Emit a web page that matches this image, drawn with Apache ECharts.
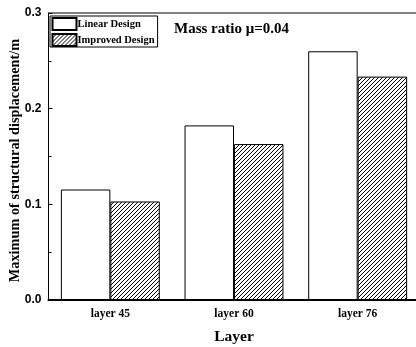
<!DOCTYPE html>
<html><head><meta charset="utf-8">
<script src="https://cdn.jsdelivr.net/npm/echarts@6/dist/echarts.min.js"></script>
<style>html,body{margin:0;padding:0;background:#fff}#c{width:416px;height:347px}</style>
</head><body><div id="c"></div>
<script>
const categories = ['layer 45', 'layer 60', 'layer 76'];
const linearDesign = [0.1155, 0.1825, 0.2600];
const improvedDesign = [0.1030, 0.1630, 0.2335];
const yTicks = [0.0, 0.1, 0.2, 0.3];

function hatch() {
  const c = document.createElement('canvas');
  c.width = 8; c.height = 8;
  const g = c.getContext('2d');
  g.fillStyle = '#fff'; g.fillRect(0, 0, 8, 8);
  g.strokeStyle = '#000'; g.lineWidth = 1;
  g.beginPath();
  for (let k = -8; k <= 16; k += 4) { g.moveTo(k, 8); g.lineTo(k + 8, 0); }
  g.stroke();
  return c;
}
const pat = { image: hatch(), repeat: 'repeat' };
const F = 'Liberation Serif, Times New Roman, serif';
const S = 'Liberation Sans, Arial, sans-serif';

const chart = echarts.init(document.getElementById('c'));
chart.setOption({
  animation: false,
  backgroundColor: '#fff',
  title: { text: 'Mass ratio μ=0.04', left: 169, top: 17,
    textStyle: { fontFamily: F, fontWeight: 'bold', fontSize: 15, color: '#000' } },
  legend: {
    orient: 'vertical', left: 50, top: 16, padding: [1, 3, 0, 1.5], itemGap: 2,
    itemWidth: 24, itemHeight: 12, borderColor: '#000', borderWidth: 1,
    textStyle: { fontFamily: F, fontWeight: 'bold', fontSize: 10.5, color: '#000', padding: [0, 0, 0, -4] },
    data: [{ name: 'Linear Design', icon: 'rect' }, { name: 'Improved Design', icon: 'rect' }]
  },
  grid: { left: 48.5, top: 13, width: 371, height: 287, outerBoundsMode: 'none', containLabel: false,
    show: true, borderColor: '#000', borderWidth: 1, backgroundColor: 'transparent' },
  xAxis: {
    type: 'category', data: categories,
    name: 'Layer', nameLocation: 'middle', nameGap: 29, nameMoveOverlap: false,
    nameTextStyle: { fontFamily: F, fontWeight: 'bold', fontSize: 15.5, color: '#000' },
    axisLine: { lineStyle: { color: '#000', width: 2 } },
    axisTick: { show: false },
    axisLabel: { fontFamily: F, fontWeight: 'bold', fontSize: 11.5, color: '#000', margin: 8 }
  },
  yAxis: {
    type: 'value', min: yTicks[0], max: yTicks[yTicks.length - 1], interval: 0.1,
    name: 'Maximum of structural displacement/m', nameLocation: 'middle', nameGap: 26, nameMoveOverlap: false,
    nameTextStyle: { fontFamily: F, fontWeight: 'bold', fontSize: 14.3, color: '#000', padding: [0, 8, 0, 0] },
    axisLine: { show: true, lineStyle: { color: '#000', width: 1 } },
    axisTick: { show: true, inside: true, length: 4, lineStyle: { color: '#000' } },
    minorTick: { show: true, splitNumber: 2, length: 3, lineStyle: { color: '#000' } },
    splitLine: { show: false },
    axisLabel: { fontFamily: S, fontWeight: 'bold', fontSize: 12, color: '#000', margin: 7,
      formatter: v => v.toFixed(1) }
  },
  series: [
    { name: 'Linear Design', type: 'bar', data: linearDesign, barGap: '0%', barCategoryGap: '20%',
      itemStyle: { color: '#fff', borderColor: '#000', borderWidth: 1 } },
    { name: 'Improved Design', type: 'bar', data: improvedDesign, barGap: '0%', barCategoryGap: '20%',
      itemStyle: { color: pat, borderColor: '#000', borderWidth: 1 } }
  ]
});
</script></body></html>
